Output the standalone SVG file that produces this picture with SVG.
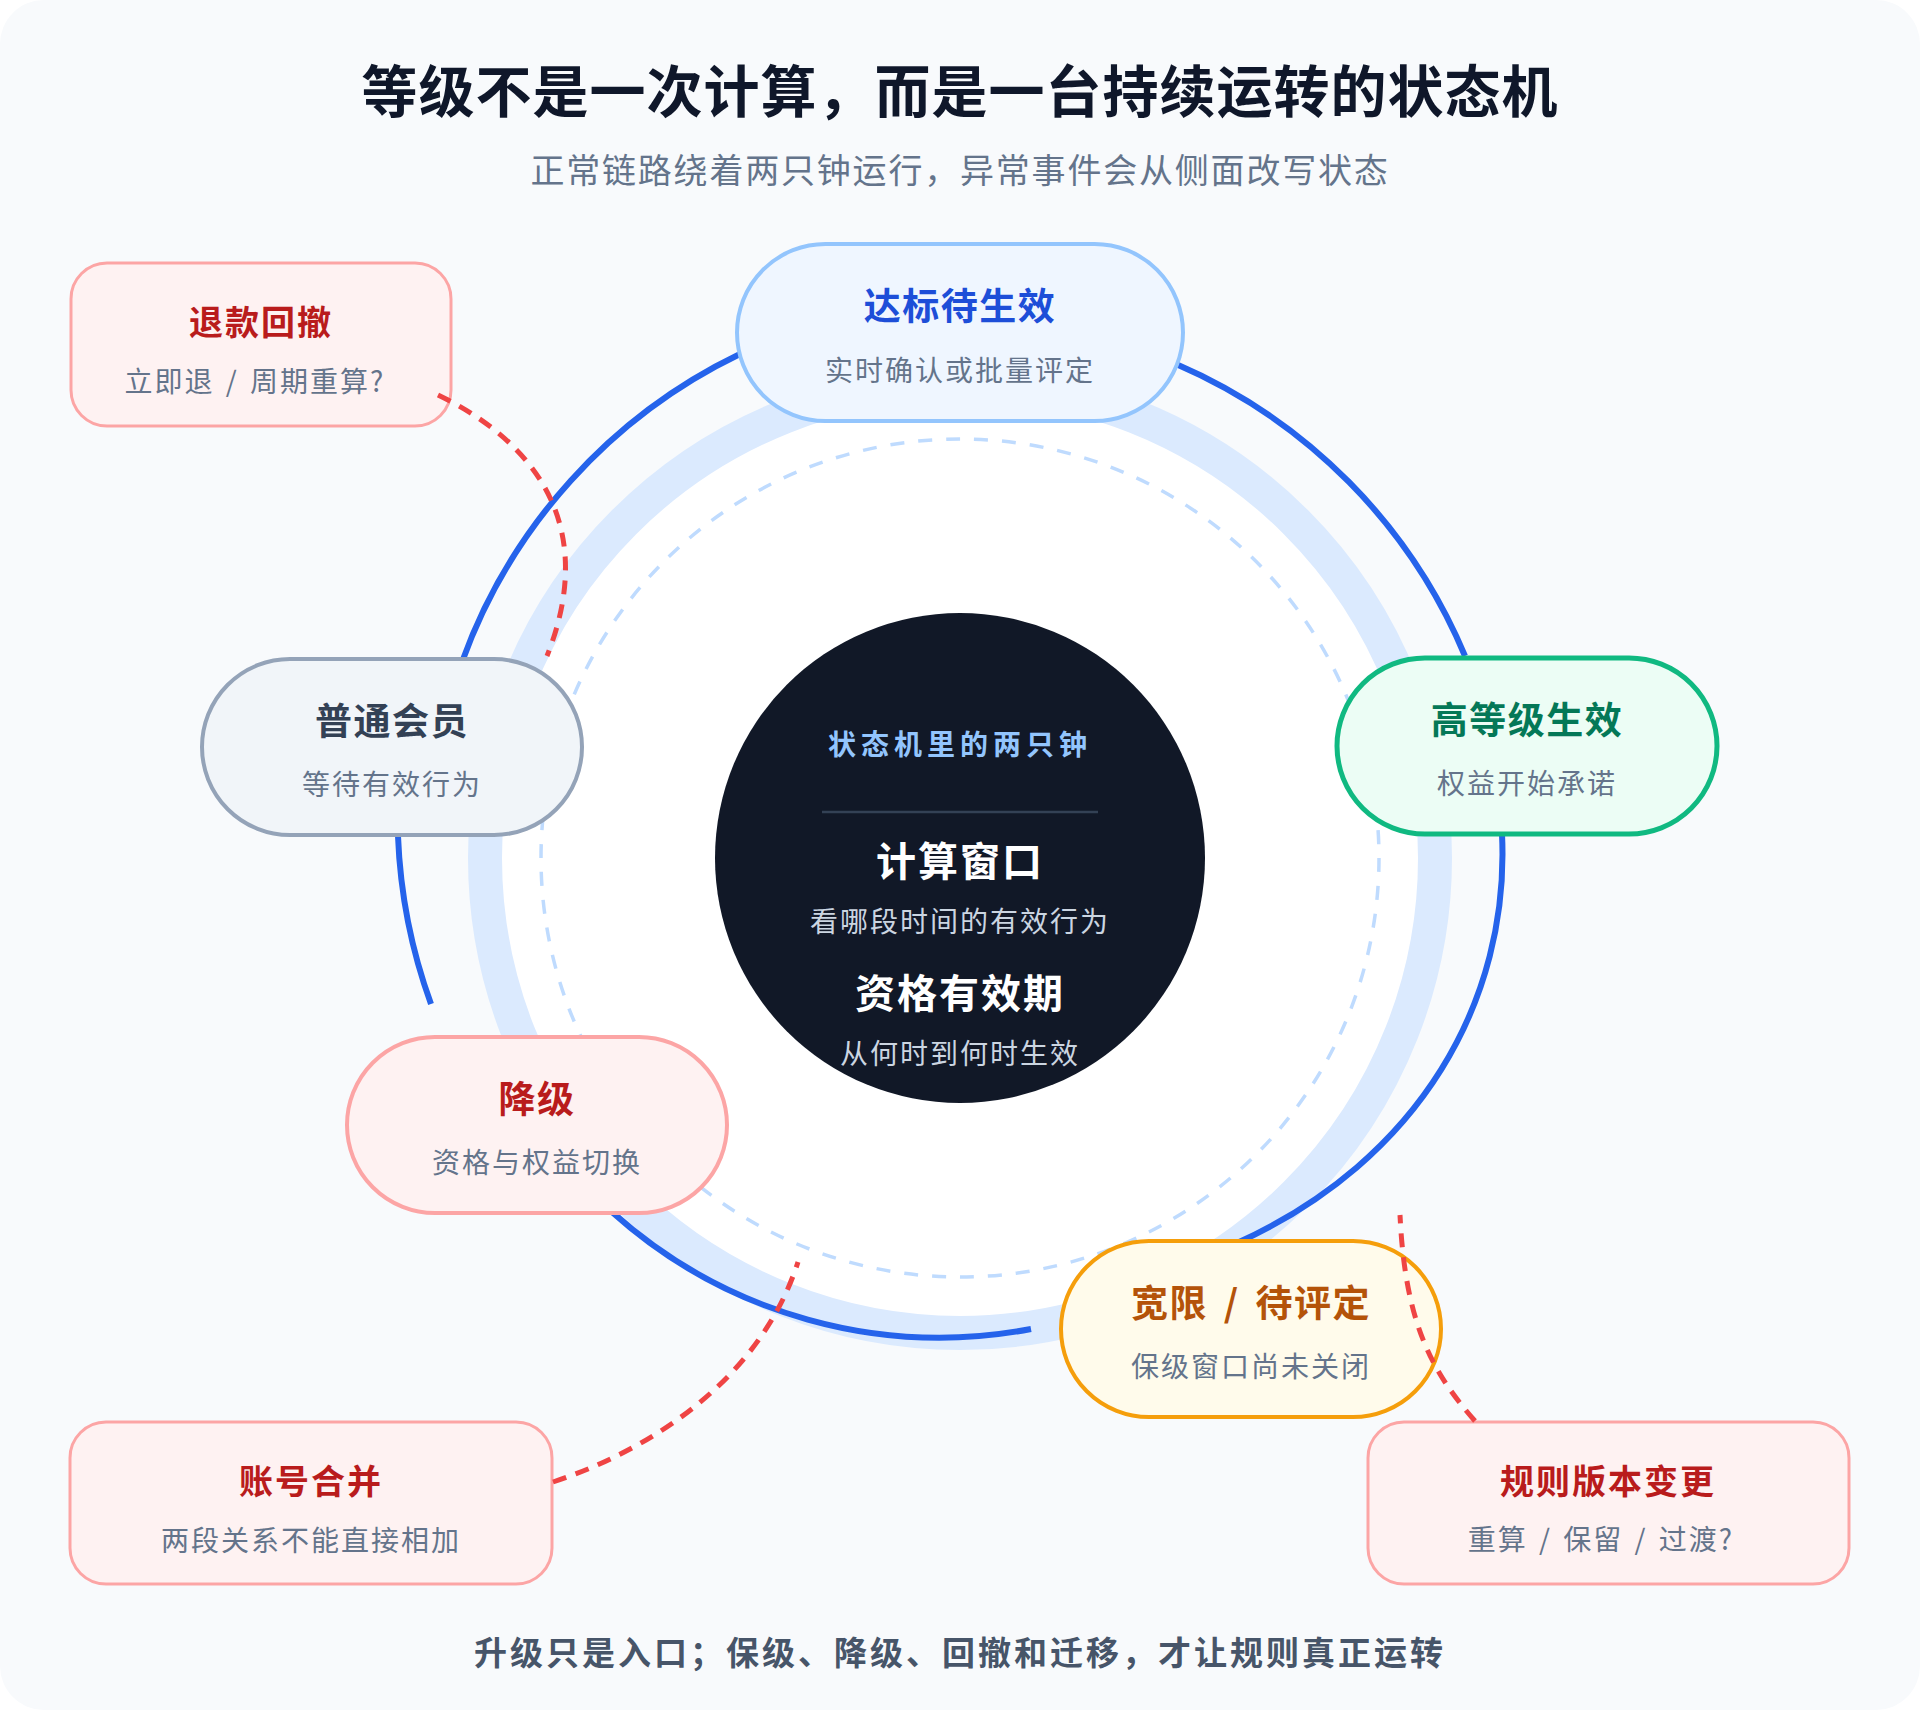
<svg xmlns="http://www.w3.org/2000/svg" width="1920" height="1710" viewBox="0 0 1920 1710">
<style>
text{font-family:"Noto Sans CJK SC","Noto Sans",sans-serif;text-anchor:middle}
.h1{font-size:56px;font-weight:700;fill:#0f172a;letter-spacing:1px}
.h2{font-size:34px;fill:#64748b;letter-spacing:1.8px}
.foot{font-size:33px;font-weight:700;fill:#475569;letter-spacing:3px}
.pt{font-size:37px;font-weight:700;letter-spacing:1.5px}
.et{font-size:34px;font-weight:700;fill:#b91c1c;letter-spacing:2px}
.sub{font-size:28px;fill:#64748b;letter-spacing:2px;word-spacing:3px}
.flow{fill:none;stroke:#2563eb;stroke-width:6;stroke-linecap:butt}
.ev{fill:none;stroke:#ef4444;stroke-width:5;stroke-dasharray:14 10}
.evbox{fill:#fef2f2;stroke:#fca5a5;stroke-width:3}
</style>
<rect x="0" y="0" width="1920" height="1710" fill="#ffffff"/>
<rect x="0" y="0" width="1920" height="1710" rx="44" fill="#f8fafc"/>
<text class="h1" x="960" y="112">等级不是一次计算，而是一台持续运转的状态机</text>
<text class="h2" x="960" y="183">正常链路绕着两只钟运行，异常事件会从侧面改写状态</text>

<g id="ring">
<circle cx="960" cy="858" r="475" fill="#ffffff" stroke="#dbeafe" stroke-width="34"/>
<circle cx="960" cy="858" r="419" fill="none" stroke="#bfdbfe" stroke-width="3.5" stroke-dasharray="14 14"/>
</g>

<g id="connectors">
<path class="flow" d="M462,662 A548,548 0 0 1 740,354"/>
<path class="flow" d="M1176,364 A548,548 0 0 1 1465,656"/>
<path class="flow" d="M1502,834 C1510,1000 1420,1160 1237,1243"/>
<path class="flow" d="M1031,1329 A490,490 0 0 1 612,1212"/>
<path class="flow" d="M398,836 A555,555 0 0 0 431,1004"/>
</g>

<g id="center">
<circle cx="960" cy="858" r="245" fill="#111827"/>
<text x="960" y="755" style="font-size:28px;font-weight:700;fill:#93c5fd;letter-spacing:5px">状态机里的两只钟</text>
<line x1="822" y1="812" x2="1098" y2="812" stroke="#334155" stroke-width="2.5"/>
<text x="960" y="876" style="font-size:40px;font-weight:700;fill:#ffffff;letter-spacing:2px">计算窗口</text>
<text x="960" y="932" style="font-size:28px;fill:#cbd5e1;letter-spacing:2px">看哪段时间的有效行为</text>
<text x="960" y="1008" style="font-size:40px;font-weight:700;fill:#ffffff;letter-spacing:2px">资格有效期</text>
<text x="960" y="1064" style="font-size:28px;fill:#cbd5e1;letter-spacing:2px">从何时到何时生效</text>
</g>

<g id="node-pending">
<rect x="737" y="244" width="446" height="177" rx="88.5" fill="#eff6ff" stroke="#93c5fd" stroke-width="4"/>
<text class="pt" x="960" y="320" fill="#1d4ed8">达标待生效</text>
<text class="sub" x="960" y="381">实时确认或批量评定</text>
</g>

<g id="node-normal">
<rect x="202" y="659" width="380" height="176" rx="88" fill="#f1f5f9" stroke="#94a3b8" stroke-width="4"/>
<text class="pt" x="392" y="735" fill="#334155">普通会员</text>
<text class="sub" x="392" y="795">等待有效行为</text>
</g>

<g id="node-high">
<rect x="1337" y="658" width="380" height="176" rx="88" fill="#ecfdf5" stroke="#10b981" stroke-width="5"/>
<text class="pt" x="1527" y="734" fill="#047857">高等级生效</text>
<text class="sub" x="1527" y="794">权益开始承诺</text>
</g>

<g id="node-downgrade">
<rect x="347" y="1037" width="380" height="176" rx="88" fill="#fef2f2" stroke="#fca5a5" stroke-width="4"/>
<text class="pt" x="537" y="1113" fill="#b91c1c">降级</text>
<text class="sub" x="537" y="1173">资格与权益切换</text>
</g>

<g id="node-grace">
<rect x="1061" y="1241" width="380" height="176" rx="88" fill="#fffbeb" stroke="#f59e0b" stroke-width="4"/>
<text class="pt" x="1251" y="1317" fill="#b45309" style="word-spacing:6px">宽限 / 待评定</text>
<text class="sub" x="1251" y="1377">保级窗口尚未关闭</text>
</g>

<g id="event-refund">
<rect class="evbox" x="71" y="263" width="380" height="163" rx="36"/>
<text class="et" x="261" y="335">退款回撤</text>
<text class="sub" x="255" y="392">立即退 / 周期重算?</text>
</g>

<g id="event-merge">
<rect class="evbox" x="70" y="1422" width="482" height="162" rx="36"/>
<text class="et" x="311" y="1494">账号合并</text>
<text class="sub" x="311" y="1551">两段关系不能直接相加</text>
</g>

<g id="event-rule">
<rect class="evbox" x="1368" y="1422" width="481" height="162" rx="36"/>
<text class="et" x="1608" y="1494">规则版本变更</text>
<text class="sub" x="1601" y="1550">重算 / 保留 / 过渡?</text>
</g>

<g id="event-connectors">
<path class="ev" d="M438,395 C515,432 605,510 547,656"/>
<path class="ev" d="M553,1482 C650,1450 760,1380 798,1262"/>
<path class="ev" d="M1475,1421 C1430,1370 1405,1320 1400,1215"/>
</g>

<text class="foot" x="960" y="1665">升级只是入口；保级、降级、回撤和迁移，才让规则真正运转</text>
</svg>
